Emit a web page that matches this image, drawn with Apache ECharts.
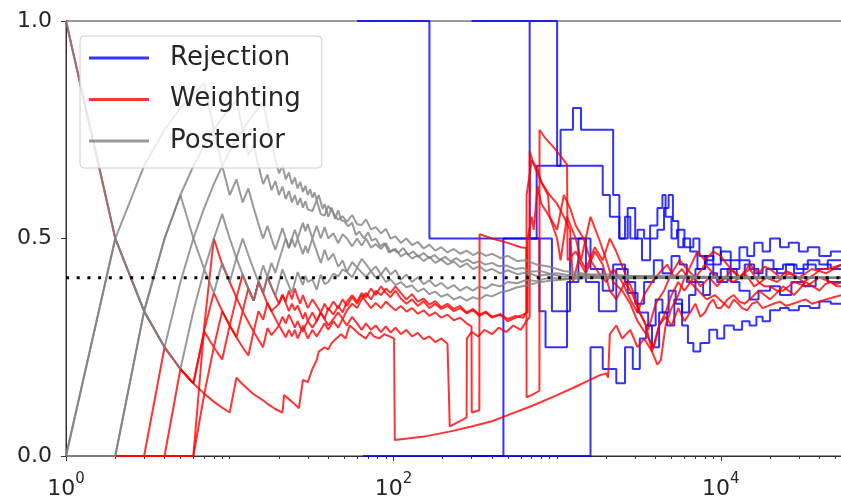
<!DOCTYPE html>
<html>
<head>
<meta charset="utf-8">
<script src="https://cdn.jsdelivr.net/npm/echarts@6/dist/echarts.min.js"></script>
<style>
  html, body { margin: 0; padding: 0; background: #fff; }
  #chart { width: 841px; height: 497px; }
</style>
</head>
<body>
<div id="chart"></div>
<script>
// running estimates, [samples, estimate]
const rejection1 = [[60,1],[166,0.5],[930,0.333],[1200,0.5],[1500,0.4],[1800,0.333],[2300,0.43],[2700,0.375],[3100,0.33],[3600,0.3],[4000,0.36],[4400,0.33],[4800,0.38],[5300,0.35],[5800,0.3],[6300,0.26],[6800,0.24],[7500,0.26],[8500,0.29],[9500,0.27],[10500,0.3],[12000,0.29],[13500,0.31],[15000,0.3],[16500,0.32],[18000,0.31],[20000,0.335],[23000,0.34],[26000,0.335],[30000,0.345],[35000,0.34],[40000,0.355],[47000,0.35],[55000,0.365]]
const rejection2 = [[680,1],[1000,0.667],[1900,0.6],[2100,0.55],[2400,0.5],[2700,0.57],[3000,0.5],[3300,0.45],[3700,0.5],[4100,0.52],[4500,0.57],[4800,0.6],[5100,0.54],[5500,0.48],[5900,0.5],[6500,0.47],[7200,0.43],[8000,0.46],[9000,0.44],[10000,0.47],[11500,0.45],[13000,0.48],[14500,0.46],[16000,0.49],[18000,0.47],[20000,0.5],[23000,0.48],[26000,0.49],[30000,0.47],[34000,0.48],[40000,0.46],[47000,0.47],[55000,0.47]]
const rejection3 = [[300,0],[1600,0.25],[1900,0.2],[2300,0.167],[2600,0.25],[2900,0.2],[3200,0.27],[3500,0.3],[3800,0.25],[4200,0.33],[4700,0.3],[5200,0.36],[5800,0.33],[6400,0.37],[7000,0.4],[7800,0.37],[8600,0.42],[9500,0.4],[11000,0.43],[12500,0.41],[14000,0.44],[16000,0.42],[18000,0.45],[21000,0.43],[24000,0.44],[28000,0.42],[32000,0.44],[38000,0.43],[45000,0.45],[55000,0.44]]
const rejection4 = [[65,0],[470,0.5],[780,0.333],[850,0.25],[1150,0.4],[1350,0.5],[1600,0.43],[1900,0.38],[2200,0.44],[2600,0.4],[3000,0.35],[3400,0.4],[3900,0.45],[4400,0.42],[5000,0.46],[5600,0.44],[6200,0.4],[7000,0.43],[8000,0.45],[9000,0.48],[10000,0.45],[11500,0.43],[13000,0.45],[15000,0.43],[17000,0.41],[19000,0.43],[22000,0.42],[25000,0.44],[29000,0.43],[34000,0.45],[40000,0.44],[47000,0.43],[55000,0.42]]
const rejection5 = [[300,1],[680,0.5],[750,0.667],[1050,0.75],[1250,0.8],[1400,0.75],[2200,0.6],[2400,0.5],[2600,0.55],[2800,0.5],[3100,0.52],[3400,0.5],[3700,0.53],[4100,0.57],[4400,0.6],[4600,0.55],[5000,0.5],[5400,0.52],[6000,0.48],[6800,0.5],[7400,0.46],[8200,0.44],[9000,0.41],[10000,0.43],[11500,0.4],[13000,0.38],[15000,0.36],[17000,0.38],[20000,0.39],[23000,0.37],[27000,0.4],[32000,0.39],[38000,0.41],[45000,0.4],[55000,0.41]]

const weighting1 = [[1,1],[2,0.5],[3,0.333],[4,0.25],[5,0.2],[6,0.167],[7,0.143],[8,0.125],[9,0.111],[10,0.1],[11,0.18],[12,0.165],[14,0.142],[16,0.128],[17,0.12],[19,0.108],[21,0.1],[21.5,0.14],[24,0.125],[26.5,0.11],[28,0.175],[30,0.17],[32,0.2],[34,0.22],[35,0.24],[38,0.25],[40,0.245],[42,0.26],[44,0.267],[48,0.28],[51,0.27],[54,0.3],[58,0.29],[62,0.28],[68,0.27],[72,0.285],[76,0.275],[82,0.27],[88,0.28],[95,0.275],[101,0.27],[102,0.037],[150,0.044],[220,0.056],[300,0.068],[400,0.08],[500,0.094],[700,0.115],[1000,0.14],[1400,0.165],[1800,0.185],[2000,0.19],[2050,0.18],[2100,0.28],[2300,0.3],[2500,0.27],[2800,0.29],[3100,0.25],[3400,0.27],[3800,0.24],[4200,0.3],[4600,0.32],[5000,0.3],[5500,0.34],[6000,0.31],[6500,0.33],[7000,0.35],[7500,0.32],[8000,0.33],[8500,0.35],[9000,0.36],[9500,0.34],[10000,0.34],[11000,0.36],[12000,0.37],[13000,0.355],[14000,0.35],[15500,0.365],[17000,0.38],[18500,0.37],[20000,0.36],[22000,0.375],[24000,0.39],[26000,0.38],[28000,0.37],[30500,0.385],[33000,0.4],[36500,0.39],[40000,0.38],[43500,0.395],[47000,0.4],[51000,0.39],[55000,0.39]]
const weighting2 = [[1,0],[2,0],[3,0],[4,0.25],[5,0.2],[6,0.167],[7,0.29],[8,0.375],[9,0.333],[10,0.3],[11,0.364],[12,0.417],[13,0.385],[14,0.357],[15,0.4],[16,0.375],[17,0.412],[18,0.389],[19,0.368],[20,0.35],[21,0.371],[22,0.352],[23,0.333],[24,0.35],[25,0.335],[26,0.346],[27,0.33],[28,0.315],[29,0.33],[30,0.31],[32,0.33],[34,0.31],[36,0.33],[38,0.315],[40,0.3],[43,0.315],[46,0.33],[49,0.315],[52,0.335],[56,0.35],[60,0.34],[64,0.36],[68,0.375],[73,0.36],[78,0.38],[84,0.37],[90,0.385],[96,0.375],[103,0.39],[111,0.375],[120,0.36],[130,0.372],[141,0.355],[153,0.362],[166,0.348],[180,0.356],[196,0.342],[214,0.35],[234,0.338],[256,0.345],[280,0.33],[306,0.338],[335,0.325],[367,0.332],[400,0.32],[450,0.326],[500,0.315],[560,0.322],[620,0.318],[650,0.33],[651,0.6],[700,0.68],[760,0.66],[800,0.63],[900,0.6],[1000,0.58],[1100,0.55],[1200,0.52],[1250,0.4],[1350,0.45],[1500,0.42],[1700,0.47],[1900,0.44],[2100,0.38],[2300,0.36],[2600,0.4],[2900,0.37],[3200,0.33],[3600,0.29],[4000,0.35],[4500,0.38],[5000,0.42],[5600,0.45],[6200,0.43],[7000,0.41],[7500,0.425],[8000,0.44],[8500,0.43],[9000,0.42],[9500,0.41],[10000,0.4],[11000,0.415],[11500,0.43],[12500,0.42],[13000,0.41],[14000,0.425],[15000,0.44],[16000,0.43],[17000,0.42],[18500,0.435],[20000,0.43],[21500,0.42],[23000,0.41],[25000,0.425],[27000,0.42],[29500,0.41],[32000,0.4],[35000,0.41],[38000,0.42],[41000,0.43],[45000,0.43],[50000,0.435],[55000,0.44]]
const weighting3 = [[1,0],[2,0],[3,0],[4,0],[5,0.2],[6,0.167],[7,0.286],[8,0.25],[9,0.333],[10,0.3],[11,0.273],[12,0.333],[13,0.308],[14,0.286],[15,0.333],[16,0.313],[17,0.353],[18,0.333],[20,0.3],[21,0.32],[22,0.305],[23,0.325],[24,0.31],[25,0.295],[26,0.31],[27,0.296],[28,0.286],[29,0.3],[30,0.31],[32,0.295],[34,0.31],[36,0.33],[38,0.315],[40,0.34],[43,0.325],[46,0.345],[49,0.33],[52,0.355],[56,0.37],[60,0.355],[64,0.375],[68,0.365],[73,0.385],[78,0.37],[84,0.39],[90,0.375],[96,0.365],[103,0.38],[111,0.362],[120,0.35],[130,0.36],[141,0.345],[153,0.356],[166,0.34],[180,0.35],[196,0.338],[214,0.345],[234,0.333],[256,0.34],[280,0.328],[306,0.335],[335,0.322],[367,0.33],[400,0.318],[450,0.325],[500,0.31],[560,0.318],[620,0.325],[660,0.33],[661,0.5],[700,0.55],[720,0.52],[760,0.62],[800,0.58],[900,0.55],[1000,0.5],[1050,0.45],[1150,0.55],[1300,0.5],[1400,0.45],[1600,0.55],[1800,0.5],[2000,0.45],[2200,0.4],[2500,0.38],[2800,0.35],[3100,0.31],[3500,0.28],[3900,0.25],[4200,0.3],[4600,0.33],[5000,0.37],[5500,0.4],[6000,0.38],[6400,0.395],[6800,0.41],[7200,0.4],[7500,0.39],[8000,0.4],[8500,0.41],[9000,0.4],[9500,0.39],[10500,0.41],[11200,0.405],[12000,0.4],[13000,0.41],[14000,0.42],[15000,0.405],[16000,0.39],[17500,0.4],[19000,0.41],[20500,0.405],[22000,0.4],[24000,0.41],[26000,0.42],[28000,0.415],[30000,0.41],[33000,0.42],[36000,0.43],[40000,0.425],[44000,0.42],[49000,0.43],[55000,0.44]]
const weighting4 = [[1,0],[2,0],[3,0],[4,0],[5,0],[6,0],[7,0.3],[8,0.5],[9,0.44],[10,0.4],[11,0.364],[12,0.333],[13,0.385],[14,0.357],[15,0.4],[16,0.375],[17,0.35],[18,0.333],[20,0.35],[21,0.37],[22,0.355],[23,0.38],[24,0.36],[25,0.385],[26,0.365],[27,0.35],[28,0.37],[29,0.355],[30,0.34],[32,0.36],[34,0.345],[36,0.33],[38,0.35],[40,0.335],[43,0.355],[46,0.34],[49,0.36],[52,0.345],[56,0.365],[60,0.35],[64,0.37],[68,0.355],[73,0.34],[78,0.352],[84,0.34],[90,0.355],[96,0.345],[103,0.335],[111,0.345],[120,0.332],[130,0.34],[141,0.327],[153,0.335],[166,0.322],[180,0.33],[196,0.318],[214,0.325],[234,0.312],[256,0.318],[280,0.305],[300,0.298],[301,0.1],[335,0.105],[336,0.51],[400,0.5],[500,0.49],[600,0.48],[650,0.478],[651,0.135],[700,0.14],[780,0.15],[781,0.75],[850,0.73],[950,0.71],[1050,0.69],[1150,0.67],[1160,0.45],[1300,0.47],[1500,0.43],[1700,0.48],[1900,0.45],[2100,0.5],[2300,0.47],[2600,0.42],[2900,0.38],[3200,0.33],[3500,0.3],[3800,0.24],[4100,0.21],[4300,0.22],[4600,0.3],[5000,0.34],[5500,0.37],[6000,0.41],[6600,0.44],[7200,0.47],[8000,0.45],[9000,0.47],[10000,0.46],[10700,0.445],[11500,0.43],[12200,0.42],[13000,0.41],[14000,0.42],[15000,0.43],[16000,0.415],[17000,0.4],[18500,0.39],[20000,0.39],[22000,0.38],[24000,0.38],[26000,0.39],[28000,0.4],[30500,0.395],[33000,0.39],[36500,0.4],[40000,0.41],[43500,0.405],[47000,0.4],[51000,0.395],[55000,0.4]]
const weighting5 = [[1,0],[2,0],[3,0],[4,0],[5,0],[6,0],[7,0.143],[8,0.25],[9,0.222],[10,0.3],[11,0.273],[12,0.25],[13,0.231],[14,0.286],[15,0.267],[16,0.25],[17,0.294],[18,0.278],[20,0.3],[21,0.286],[22,0.273],[23,0.29],[24,0.275],[25,0.29],[26,0.27],[27,0.285],[28,0.3],[29,0.285],[30,0.27],[32,0.29],[34,0.275],[36,0.29],[38,0.305],[40,0.29],[43,0.31],[46,0.295],[49,0.315],[52,0.3],[56,0.32],[60,0.305],[64,0.29],[68,0.305],[73,0.29],[78,0.3],[84,0.285],[90,0.298],[96,0.284],[103,0.295],[111,0.28],[120,0.29],[130,0.275],[141,0.283],[153,0.268],[166,0.275],[180,0.262],[196,0.27],[214,0.258],[220,0.255],[221,0.068],[280,0.088],[281,0.27],[300,0.285],[330,0.275],[360,0.29],[400,0.28],[440,0.295],[490,0.285],[540,0.3],[600,0.29],[650,0.31],[680,0.32],[681,0.7],[720,0.67],[800,0.63],[880,0.6],[900,0.55],[1000,0.52],[1100,0.6],[1200,0.57],[1300,0.53],[1450,0.5],[1600,0.45],[1800,0.42],[2000,0.4],[2200,0.43],[2500,0.4],[2800,0.36],[3100,0.33],[3400,0.37],[3800,0.4],[4200,0.42],[4700,0.44],[5200,0.41],[5800,0.43],[6500,0.4],[7300,0.38],[8200,0.36],[9200,0.37],[10500,0.35],[11200,0.34],[12000,0.36],[12800,0.35],[13500,0.34],[14500,0.335],[15500,0.35],[16700,0.355],[18000,0.34],[19500,0.345],[21000,0.35],[23000,0.355],[25000,0.345],[27500,0.35],[30000,0.355],[33000,0.36],[36000,0.35],[40000,0.355],[44000,0.36],[49000,0.365],[55000,0.37]]

const posterior1 = [[1,1],[2,0.5],[3,0.333],[4,0.25],[5,0.4],[6,0.5],[7,0.571],[8,0.625],[9,0.667],[10,0.7],[11,0.727],[12,0.75],[13,0.769],[14,0.786],[15,0.8],[16,0.812],[17,0.765],[18,0.722],[19,0.684],[20,0.65],[21,0.667],[22,0.636],[23,0.652],[24,0.625],[25,0.64],[26,0.615],[27,0.63],[28,0.607],[29,0.621],[30,0.6],[31,0.613],[32,0.594],[33,0.606],[34,0.588],[35,0.6],[36,0.583],[37,0.568],[38,0.579],[40,0.55],[42,0.571],[44,0.545],[46,0.565],[48,0.542],[50,0.54],[53,0.528],[56,0.536],[59,0.508],[62,0.516],[66,0.5],[70,0.514],[74,0.495],[78,0.5],[83,0.482],[88,0.489],[94,0.468],[100,0.475],[107,0.467],[115,0.478],[123,0.463],[132,0.47],[142,0.458],[153,0.467],[165,0.455],[178,0.462],[192,0.451],[207,0.458],[224,0.447],[242,0.455],[262,0.446],[284,0.452],[308,0.443],[335,0.448],[365,0.44],[400,0.444],[440,0.436],[490,0.438],[550,0.43],[620,0.432],[700,0.424],[800,0.425],[900,0.419],[1000,0.42],[1200,0.415],[1500,0.417],[2000,0.412],[3000,0.414],[5000,0.41],[10000,0.412],[20000,0.409],[55000,0.41]]
const posterior2 = [[1,0],[2,0.5],[3,0.667],[4,0.75],[5,0.8],[6,0.833],[7,0.857],[8,0.75],[9,0.667],[10,0.6],[11,0.636],[12,0.583],[13,0.615],[14,0.571],[15,0.533],[16,0.5],[17,0.529],[18,0.5],[19,0.474],[20,0.5],[21,0.524],[22,0.5],[23,0.478],[24,0.5],[25,0.48],[26,0.5],[27,0.481],[28,0.464],[29,0.483],[30,0.467],[32,0.5],[34,0.471],[36,0.444],[38,0.474],[40,0.45],[43,0.465],[46,0.435],[49,0.449],[52,0.423],[56,0.446],[60,0.433],[64,0.453],[68,0.441],[73,0.425],[78,0.436],[84,0.417],[90,0.433],[96,0.417],[103,0.427],[111,0.405],[120,0.417],[130,0.4],[141,0.411],[153,0.395],[166,0.404],[180,0.39],[196,0.398],[214,0.385],[234,0.393],[256,0.38],[280,0.389],[306,0.38],[335,0.39],[367,0.385],[400,0.395],[450,0.39],[500,0.4],[570,0.397],[650,0.405],[750,0.402],[900,0.41],[1100,0.407],[1500,0.411],[2500,0.408],[5000,0.41],[15000,0.408],[55000,0.41]]
const posterior3 = [[1,0],[2,0],[3,0.333],[4,0.5],[5,0.6],[6,0.5],[7,0.429],[8,0.5],[9,0.556],[10,0.5],[11,0.455],[12,0.417],[13,0.385],[14,0.357],[15,0.4],[16,0.375],[17,0.412],[18,0.444],[19,0.421],[20,0.45],[21,0.476],[22,0.5],[23,0.478],[24,0.5],[25,0.52],[26,0.5],[27,0.519],[28,0.536],[29,0.517],[30,0.533],[32,0.5],[34,0.529],[36,0.5],[38,0.526],[40,0.5],[43,0.512],[46,0.489],[49,0.51],[52,0.5],[56,0.482],[60,0.5],[64,0.484],[68,0.5],[73,0.479],[78,0.487],[84,0.476],[90,0.489],[96,0.469],[103,0.476],[111,0.459],[120,0.467],[130,0.454],[141,0.461],[153,0.448],[166,0.458],[180,0.444],[196,0.452],[214,0.44],[234,0.447],[256,0.434],[280,0.443],[306,0.43],[335,0.436],[367,0.425],[400,0.43],[450,0.42],[500,0.427],[570,0.418],[650,0.422],[750,0.414],[900,0.418],[1100,0.412],[1500,0.414],[2500,0.41],[5000,0.411],[55000,0.41]]
const posterior4 = [[1,0],[2,0.5],[3,0.333],[4,0.5],[5,0.6],[6,0.667],[7,0.714],[8,0.75],[9,0.778],[10,0.8],[11,0.818],[12,0.75],[13,0.692],[14,0.714],[15,0.667],[16,0.625],[17,0.647],[18,0.611],[19,0.632],[20,0.6],[21,0.619],[22,0.591],[23,0.609],[24,0.583],[25,0.6],[26,0.577],[27,0.593],[28,0.571],[29,0.586],[30,0.567],[32,0.563],[34,0.588],[36,0.556],[38,0.553],[40,0.575],[43,0.558],[46,0.543],[49,0.551],[52,0.538],[56,0.554],[60,0.533],[64,0.531],[68,0.544],[73,0.521],[78,0.526],[84,0.512],[90,0.522],[96,0.5],[103,0.505],[111,0.49],[120,0.5],[130,0.485],[141,0.492],[153,0.477],[166,0.486],[180,0.472],[196,0.48],[214,0.468],[234,0.476],[256,0.465],[280,0.472],[306,0.462],[335,0.469],[367,0.46],[400,0.465],[450,0.455],[500,0.46],[570,0.448],[650,0.45],[750,0.44],[900,0.435],[1100,0.425],[1300,0.422],[1600,0.417],[2000,0.418],[3000,0.413],[5000,0.415],[10000,0.411],[20000,0.412],[55000,0.41]]
const posterior5 = [[1,0],[2,0],[3,0.333],[4,0.25],[5,0.2],[6,0.333],[7,0.429],[8,0.375],[9,0.444],[10,0.4],[11,0.455],[12,0.5],[13,0.462],[14,0.429],[15,0.4],[16,0.438],[17,0.412],[18,0.389],[19,0.368],[20,0.4],[21,0.429],[22,0.409],[23,0.391],[24,0.375],[25,0.4],[26,0.423],[27,0.407],[28,0.393],[29,0.414],[30,0.4],[32,0.406],[34,0.382],[36,0.417],[38,0.395],[40,0.4],[43,0.419],[46,0.413],[49,0.429],[52,0.423],[56,0.411],[60,0.433],[64,0.422],[68,0.412],[73,0.425],[78,0.41],[84,0.417],[90,0.4],[96,0.406],[103,0.393],[111,0.4],[120,0.388],[130,0.392],[141,0.378],[153,0.385],[166,0.372],[180,0.378],[196,0.366],[214,0.372],[234,0.36],[256,0.366],[280,0.357],[306,0.365],[335,0.36],[367,0.37],[400,0.367],[450,0.376],[500,0.38],[570,0.388],[650,0.392],[750,0.398],[900,0.403],[1100,0.406],[1500,0.409],[2500,0.41],[55000,0.41]]

const trueValue = 0.41
const xMin = 1
const xMax = 55000
const xLabelTicks = [1, 100, 10000]
const xMinorTicks = [2,3,4,5,6,7,8,9,10,20,30,40,50,60,70,80,90,200,300,400,500,600,700,800,900,1000,2000,3000,4000,5000,6000,7000,8000,9000,20000,30000,40000,50000]
const yTicks = [0, 0.5, 1]

const BLUE = 'rgba(0,0,255,0.8)'
const RED = 'rgba(255,0,0,0.8)'
const GRAY = 'rgba(128,128,128,0.8)'
const FONT = 'DejaVu Sans'
const TEXT = '#262626'
const AXIS = '#333'

const makeLine = (name, data, color, step) => ({
	name: name,
	type: 'line',
	data: data,
	step: step || false,
	symbol: 'none',
	showSymbol: false,
	silent: true,
	animation: false,
	lineStyle: { color: color, width: 2 },
	itemStyle: { color: color }
})

const series = []
	.concat([ rejection1, rejection2, rejection3, rejection4, rejection5 ].map((d) => makeLine('Rejection', d, BLUE, 'end')))
	.concat([ weighting1, weighting2, weighting3, weighting4, weighting5 ].map((d) => makeLine('Weighting', d, RED)))
	.concat([ posterior1, posterior2, posterior3, posterior4, posterior5 ].map((d) => makeLine('Posterior', d, GRAY)))

// dotted reference line
series.push({
	name: 'true',
	type: 'line',
	data: [ [ xMin, trueValue ], [ xMax, trueValue ] ],
	symbol: 'none',
	silent: true,
	animation: false,
	z: 5,
	lineStyle: { color: '#000', width: 3, type: [ 3, 7.7 ], cap: 'butt' }
})

const option = {
	animation: false,
	backgroundColor: '#fff',
	grid: {
		left: 66,
		right: -1,
		top: 21,
		bottom: 41,
		show: true,
		borderColor: AXIS,
		borderWidth: 1,
		containLabel: false,
		outerBoundsMode: 'none'
	},
	legend: {
		data: [ 'Rejection', 'Weighting', 'Posterior' ],
		orient: 'vertical',
		left: 80,
		top: 36,
		icon: 'rect',
		itemWidth: 60,
		itemHeight: 3,
		itemGap: 15.5,
		padding: [ 9, 21, 14, 9 ],
		backgroundColor: 'rgba(255,255,255,0.8)',
		borderColor: '#cccccc',
		borderWidth: 1,
		borderRadius: 4,
		textStyle: { fontFamily: FONT, fontSize: 26, color: TEXT, padding: [ 0, 0, 0, 16 ] }
	},
	xAxis: [
		{
			type: 'log',
			logBase: 10,
			min: xMin,
			max: xMax,
			axisLine: { show: true, lineStyle: { color: AXIS, width: 1 } },
			axisTick: { show: true, customValues: xLabelTicks, length: 5, lineStyle: { color: AXIS } },
			axisLabel: {
				customValues: xLabelTicks,
				margin: 16,
				formatter: (v) => '{b|10}{s|' + Math.round(Math.log10(v)) + '}',
				rich: {
					b: { fontFamily: FONT, fontSize: 22, color: TEXT, lineHeight: 28, verticalAlign: 'bottom' },
					s: { fontFamily: FONT, fontSize: 15, color: TEXT, lineHeight: 15, verticalAlign: 'top' }
				}
			},
			splitLine: { show: false },
			minorTick: { show: false }
		},
		{
			type: 'log',
			logBase: 10,
			min: xMin,
			max: xMax,
			position: 'bottom',
			axisLine: { show: false },
			axisTick: { show: true, customValues: xMinorTicks, length: 3, lineStyle: { color: AXIS } },
			axisLabel: { show: false },
			splitLine: { show: false }
		}
	],
	yAxis: {
		type: 'value',
		min: 0,
		max: 1,
		interval: 0.5,
		axisLine: { show: true, lineStyle: { color: AXIS, width: 1 } },
		axisTick: { show: true, length: 5, lineStyle: { color: AXIS } },
		axisLabel: {
			fontFamily: FONT,
			fontSize: 22,
			color: TEXT,
			margin: 14,
			customValues: yTicks,
			formatter: (v) => v.toFixed(1)
		},
		splitLine: { show: false }
	},
	series: series
}

echarts.init(document.getElementById('chart'), null, { renderer: 'canvas' }).setOption(option)
</script>
</body>
</html>
